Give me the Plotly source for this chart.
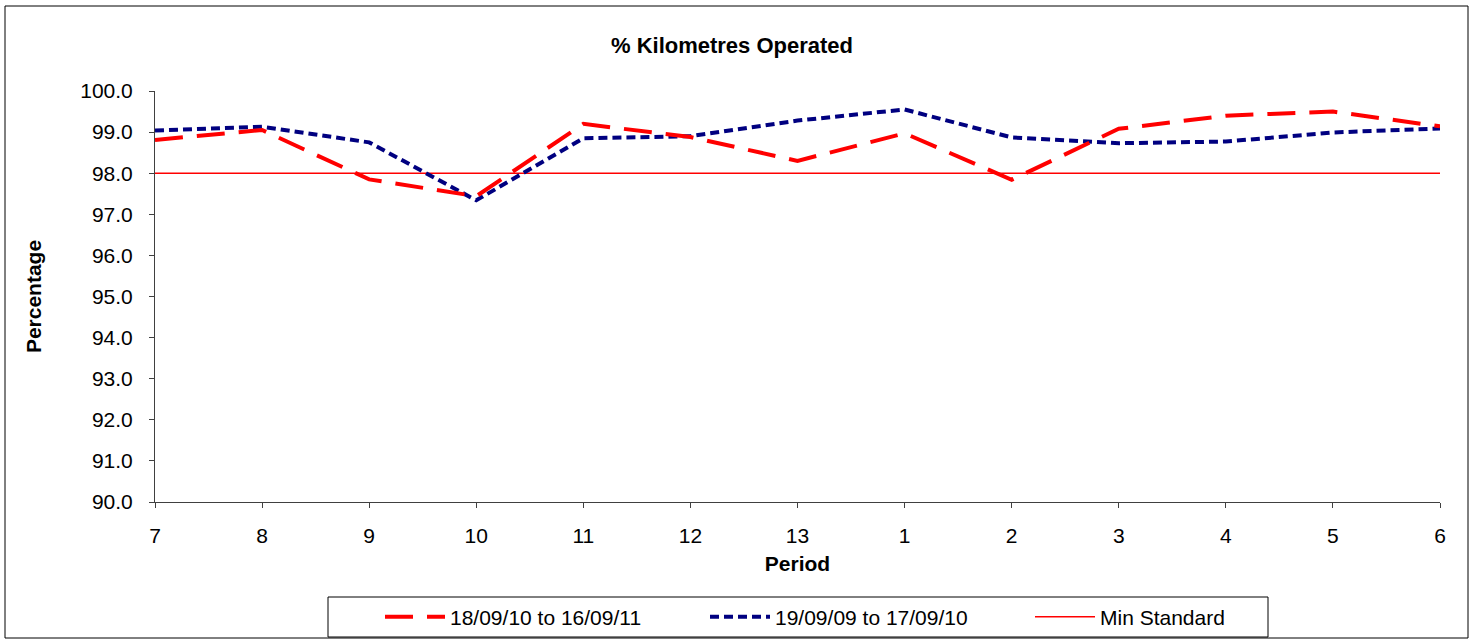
import plotly.graph_objects as go

periods = ["7", "8", "9", "10", "11", "12", "13", "1", "2", "3", "4", "5", "6"]
series_2010_11 = [98.81, 99.05, 97.85, 97.44, 99.20, 98.88, 98.30, 98.97, 97.84, 99.08, 99.40, 99.50, 99.14]
series_2009_10 = [99.04, 99.13, 98.75, 97.34, 98.85, 98.90, 99.28, 99.55, 98.87, 98.73, 98.77, 98.99, 99.09]
min_standard = [98.0] * len(periods)

name_a = "18/09/10 to 16/09/11"
name_b = "19/09/09 to 17/09/10"
name_c = "Min Standard"

W, H = 1475, 639
L, R, T, B = 155, 1440, 91, 502

FONT = "Liberation Sans, Arial, sans-serif"
AXC = "#404040"

fig = go.Figure()
fig.add_trace(go.Scatter(x=periods, y=min_standard, name=name_c, mode="lines",
                         line=dict(color="#FF0000", width=1.5)))
fig.add_trace(go.Scatter(x=periods, y=series_2009_10, name=name_b, mode="lines",
                         line=dict(color="#000080", width=4, dash="9px,5px")))
fig.add_trace(go.Scatter(x=periods, y=series_2010_11, name=name_a, mode="lines",
                         line=dict(color="#FF0000", width=4, dash="28px,14px")))


def px_x(p):
    return (p - L) / (R - L)


def px_y(p):
    return (B - p) / (B - T)


fig.update_layout(
    width=W, height=H,
    margin=dict(l=L, r=W - R, t=T, b=H - B, pad=0, autoexpand=False),
    paper_bgcolor="white", plot_bgcolor="white",
    font=dict(family=FONT, size=21, color="black"),
    title=dict(text="<b>% Kilometres Operated</b>", x=px_x(732), xanchor="center",
               xref="paper", y=1 - 45 / H, yanchor="middle",
               font=dict(size=22, family=FONT, color="black")),
    xaxis=dict(type="category", range=[0, len(periods) - 1], showgrid=False,
               showline=True, linecolor=AXC, linewidth=1,
               ticks="outside", ticklen=5, tickcolor=AXC,
               tickfont=dict(size=21), zeroline=False, ticklabelstandoff=10,
               title=dict(text="<b>Period</b>", font=dict(size=21), standoff=10)),
    yaxis=dict(range=[90, 100], dtick=1, tickformat=".1f", showgrid=False,
               showline=True, linecolor=AXC, linewidth=1,
               ticks="outside", ticklen=5, tickcolor=AXC,
               tickfont=dict(size=21), zeroline=False, ticklabelstandoff=12,
               title=dict(text="<b>Percentage</b>", font=dict(size=21), standoff=32)),
    legend=dict(orientation="h", x=px_x(380), xanchor="left", y=px_y(617), yanchor="middle",
                traceorder="reversed", borderwidth=0, bgcolor="rgba(0,0,0,0)",
                font=dict(size=21), itemwidth=60, entrywidth=250, entrywidthmode="pixels"),
    showlegend=True,
    shapes=[
        dict(type="rect", xref="paper", yref="paper",
             x0=px_x(5), x1=px_x(1468), y0=px_y(6), y1=px_y(638),
             line=dict(color="black", width=1), fillcolor="rgba(0,0,0,0)", layer="below"),
        dict(type="rect", xref="paper", yref="paper",
             x0=px_x(328), x1=px_x(1268), y0=px_y(597), y1=px_y(637),
             line=dict(color="black", width=1), fillcolor="rgba(0,0,0,0)", layer="below"),
    ],
)

fig.write_html("out.html", config={"displayModeBar": False},
               post_script="document.body.style.margin='0';document.body.style.overflow='hidden';")
